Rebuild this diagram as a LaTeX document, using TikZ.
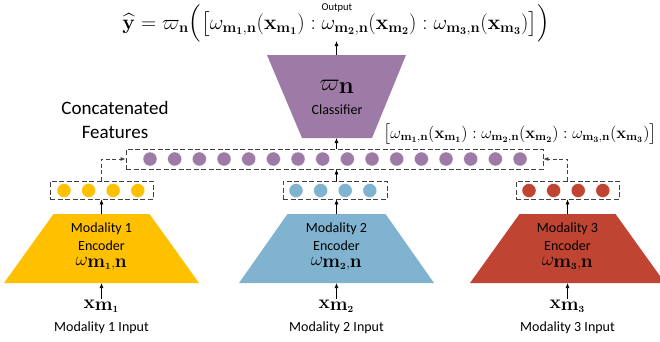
\RequirePackage{fix-cm}
\documentclass[tikz,border=0pt]{standalone}
\usepackage{amsmath}
\usepackage[no-math]{fontspec}
\setmainfont{Carlito}
\usetikzlibrary{arrows.meta}
\definecolor{cyel}{HTML}{FFC000}
\definecolor{cblu}{HTML}{7FB3D0}
\definecolor{cred}{HTML}{BF4431}
\definecolor{cpur}{HTML}{9E7BA6}
\definecolor{cdash}{HTML}{404040}
\tikzset{
  arr/.style={-{Latex[length=5pt,width=4pt]},black,line width=0.7pt},
  darr/.style={-{Latex[length=5pt,width=4pt]},cdash,line width=0.8pt,dash pattern=on 4pt off 2.5pt},
  dbox/.style={draw=cdash,line width=0.8pt,dash pattern=on 5pt off 2.5pt},
  feat/.style={circle,inner sep=0pt,minimum size=14pt,draw=white,line width=0.3pt},
  lbl/.style={inner sep=0pt,anchor=base,font=\fontsize{14}{16}\selectfont},
  mth/.style={inner sep=0pt,anchor=base,font=\fontsize{19}{22}\selectfont},
}
\newcommand\bigsub[1]{{\textstyle\mathbf{#1}}}
\begin{document}
\begin{tikzpicture}[x=1pt,y=-1pt]
\useasboundingbox (0,0) rectangle (660,341);
% encoders
\fill[cyel] (4,283) -- (53.5,214) -- (149.5,214) -- (199,283) -- cycle;
\fill[cblu] (239,283) -- (287.5,214) -- (385.5,214) -- (434,283) -- cycle;
\fill[cred] (470,283) -- (519.5,214) -- (615.5,214) -- (665,283) -- cycle;
\coordinate (e1t) at (101.5,214); \coordinate (e1b) at (101.5,283);
\coordinate (e2t) at (336.5,214); \coordinate (e2b) at (336.5,283);
\coordinate (e3t) at (567.5,214); \coordinate (e3b) at (567.5,283);
% classifier
\fill[cpur] (267,55) -- (406,55) -- (372,138) -- (302,138) -- cycle;
\coordinate (ct) at (336.5,55); \coordinate (cb) at (336.5,138);
% encoder texts
\foreach \cx/\k in {101.5/1,336.5/2,567.5/3}{
  \node[lbl] (mod\k) at (\cx,232) {Modality \k};
  \node[lbl] (encl\k) at (\cx,250) {Encoder};
  \node[mth] (om\k) at (\cx,265) {$\omega_{\bigsub{m}_{\mathbf{\k}},\bigsub{n}}$};
  \node[mth] (x\k) at (\cx,308) {$\mathbf{x}_{\bigsub{m}_{\mathbf{\k}}}$};
  \node[lbl] (inp\k) at (\cx,331) {Modality \k\ Input};
}
% classifier texts
\node[mth,font=\fontsize{24}{26}\selectfont] (vp) at (337,90) {$\varpi_{\bigsub{n}}$};
\node[lbl] (clf) at (337,114) {Classifier};
% feature boxes
\node[dbox,minimum width=103pt,minimum height=18pt,inner sep=0pt] (b1) at (101.5,190) {};
\node[dbox,minimum width=104pt,minimum height=18pt,inner sep=0pt] (b2) at (335,190) {};
\node[dbox,minimum width=103pt,minimum height=18pt,inner sep=0pt] (b3) at (567.5,190) {};
\node[dbox,minimum width=417pt,minimum height=20pt,inner sep=0pt] (cc) at (334.5,159) {};
\foreach \i in {0,...,3}{
  \node[feat,fill=cyel] (y\i) at (64+24.6*\i,190.5) {};
  \node[feat,fill=cblu] (u\i) at (296+24.6*\i,190.5) {};
  \node[feat,fill=cred] (r\i) at (529+24.6*\i,190.5) {};
}
\foreach \i in {0,...,15}{
  \node[feat,fill=cpur] (p\i) at (150+24.67*\i,159) {};
}
% labels
\node[inner sep=0pt,align=center,font=\fontsize{19}{24}\selectfont] (conc) at (115,120) {Concatenated\\Features};
\node[inner sep=0pt,anchor=base,font=\fontsize{16.5}{18}\selectfont] (cl) at (520,138)
  {$\big[\omega_{\mathbf{m_1},\mathbf{n}}(\mathbf{x}_{\mathbf{m_1}}) : \omega_{\mathbf{m_2},\mathbf{n}}(\mathbf{x}_{\mathbf{m_2}}) : \omega_{\mathbf{m_3},\mathbf{n}}(\mathbf{x}_{\mathbf{m_3}})\big]$};
\node[inner sep=0pt,anchor=base,font=\fontsize{10.5}{12}\selectfont] (outl) at (337,10) {Output};
\node[mth,font=\fontsize{21}{23}\selectfont] (eq) at (336,29)
  {$\widehat{\mathbf{y}} = \varpi_{\mathbf{n}}\Big(\big[\omega_{\mathbf{m_1},\mathbf{n}}(\mathbf{x}_{\mathbf{m_1}}) : \omega_{\mathbf{m_2},\mathbf{n}}(\mathbf{x}_{\mathbf{m_2}}) : \omega_{\mathbf{m_3},\mathbf{n}}(\mathbf{x}_{\mathbf{m_3}})\big]\Big)$};
\coordinate (eqb) at (336.5,41);
% connectors
\foreach \k in {1,2,3}{
  \draw[arr] (x\k.north |- 0,299) -- (e\k b);
}
\draw[arr] (e1t) -- (b1.south);
\draw[arr] (e2t) -- (b2.south -| e2t);
\draw[arr] (e3t) -- (b3.south);
\draw[darr] (b1.north) |- (cc.west);
\draw[darr] (b3.north) |- (cc.east);
\draw[arr] (b2.north -| cb) -- (cc.south -| cb);
\draw[arr] (cc.north -| cb) -- (cb);
\draw[arr] (ct) -- (eqb);
\end{tikzpicture}
\end{document}
